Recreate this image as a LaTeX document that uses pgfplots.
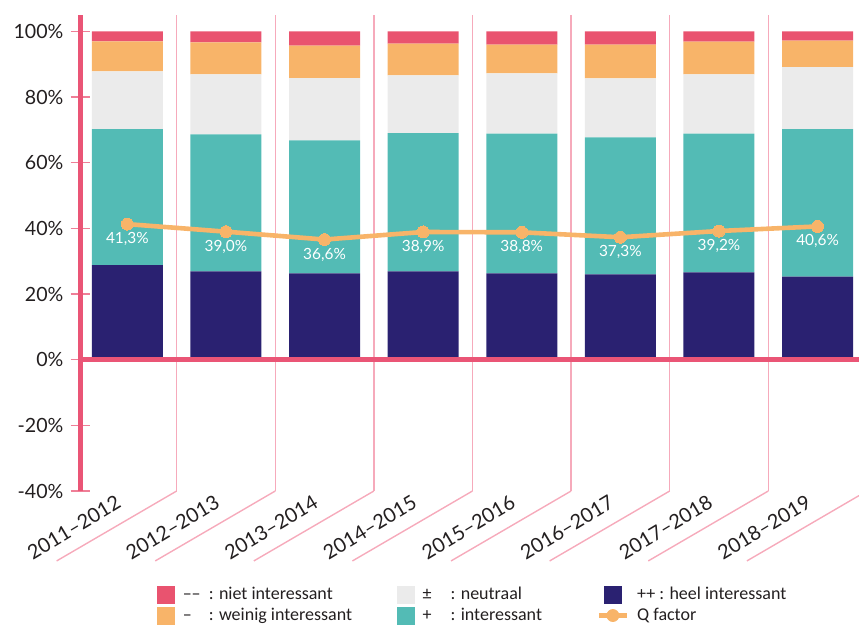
\documentclass[border=0pt]{standalone}
\usepackage{fontspec}
\setmainfont{Lato}
\newfontfamily\legfont{Carlito}
\usepackage{pgfplots}
\pgfplotsset{compat=1.18}
\definecolor{cred}{HTML}{E9536F}
\definecolor{corange}{HTML}{F8B469}
\definecolor{cgray}{HTML}{EBEBEB}
\definecolor{cteal}{HTML}{53BBB5}
\definecolor{cnavy}{HTML}{2A2171}
\definecolor{cpink}{HTML}{EA5576}
\definecolor{ctick}{HTML}{EF7F97}
\definecolor{cgrid}{HTML}{F6AABB}
\definecolor{ctext}{HTML}{231F20}
\begin{document}
\begin{tikzpicture}
\pgfplotsset{common/.style={scale only axis, width=389.5pt, height=238pt,
  xmin=-0.48, xmax=7.42, ymin=-40, ymax=105, clip=false}}
\begin{axis}[common, name=ax,
  ybar stacked, bar width=0.72,
  axis y line*=left, axis x line*=bottom,
  x axis line style={draw=none},
  y axis line style={cpink, line width=2.5pt},
  ytick={-40,-20,0,20,40,60,80,100},
  yticklabels={-40\%,-20\%,0\%,20\%,40\%,60\%,80\%,100\%},
  ytick style={ctick, line width=0.7pt},
  tick align=center, major tick length=9.5pt,
  yticklabel style={font=\fontsize{9.8}{11}\selectfont, text=ctext},
  xtick={0,1,2,3,4,5,6,7},
  xticklabels={2011–2012,2012–2013,2013–2014,2014–2015,2015–2016,2016–2017,2017–2018,2018–2019},
  xtick style={draw=none},
  xticklabel style={xshift=-5pt, yshift=8pt, rotate=31, anchor=north east, font=\fontsize{10}{11}\selectfont, text=ctext},
  extra x ticks={0.5,1.5,2.5,3.5,4.5,5.5,6.5},
  extra x tick labels={},
  extra x tick style={grid=major, major tick length=0pt, major grid style={cgrid, line width=0.7pt}},
  legend columns=3, legend cell align=left,
  legend style={at={(0.0988,-0.1954)}, anchor=north west, draw=none, fill=none,
    inner sep=0pt, outer sep=0pt, row sep=0pt, column sep=0pt,
    font=\legfont\fontsize{9}{10.5}\selectfont, text=ctext,
    /tikz/every odd column/.append style={column sep=4pt},
    nodes={inner sep=0pt, text height=7pt, text depth=2pt, inner ysep=0.75pt}},
]
\addplot[fill=cnavy, draw=none, forget plot] coordinates {(0,28.8) (1,26.9) (2,26.3) (3,26.9) (4,26.3) (5,26.0) (6,26.6) (7,25.3)};
\addplot[fill=cteal, draw=none, forget plot] coordinates {(0,41.4) (1,41.7) (2,40.5) (3,42.1) (4,42.6) (5,41.7) (6,42.3) (7,44.9)};
\addplot[fill=cgray, draw=none, forget plot] coordinates {(0,17.6) (1,18.3) (2,19.0) (3,17.6) (4,18.3) (5,18.0) (6,18.0) (7,18.9)};
\addplot[fill=corange, draw=none, forget plot] coordinates {(0,9.2) (1,9.75) (2,9.9) (3,9.7) (4,8.8) (5,10.3) (6,10.0) (7,8.1)};
\addplot[fill=cred, draw=none, forget plot] coordinates {(0,3.0) (1,3.35) (2,4.3) (3,3.7) (4,4.0) (5,4.0) (6,3.1) (7,2.8)};
\addlegendimage{legend image code/.code={\fill[cred] (0pt,-4.25pt) rectangle (8.5pt,4.25pt);}}
\addlegendimage{legend image code/.code={\fill[cgray] (0pt,-4.25pt) rectangle (8.5pt,4.25pt);}}
\addlegendimage{legend image code/.code={\fill[cnavy] (0pt,-4.25pt) rectangle (8.5pt,4.25pt);}}
\addlegendimage{legend image code/.code={\fill[corange] (0pt,-4.25pt) rectangle (8.5pt,4.25pt);}}
\addlegendimage{legend image code/.code={\fill[cteal] (0pt,-4.25pt) rectangle (8.5pt,4.25pt);}}
\addlegendimage{legend image code/.code={\draw[corange, line width=2.3pt] (-2.75pt,0) -- (11.25pt,0); \fill[corange] (4.25pt,0) circle (3pt);}}
\legend{{\makebox[107pt][l]{\makebox[13pt][l]{––}: niet interessant}},
  {\makebox[87pt][l]{\makebox[14pt][l]{±}: neutraal}},
  {++ : heel interessant},
  {\makebox[107pt][l]{\makebox[13pt][l]{–}: weinig interessant}},
  {\makebox[87pt][l]{\makebox[14pt][l]{+}: interessant}},
  {Q factor}}
\end{axis}
\begin{axis}[common, hide axis]
\addplot[cpink, line width=2.5pt] coordinates {(-0.48,0) (7.42,0)};
\addplot[corange, line width=2.3pt, mark=*, mark size=3pt,
  mark options={fill=corange, draw=corange, line width=0pt},
  point meta=y,
  nodes near coords={\pgfmathprintnumber[fixed,fixed zerofill,precision=1,use comma,assume math mode=true]{\pgfplotspointmeta}\%},
  every node near coord/.append style={anchor=center, yshift=-7.5pt, text=white, font=\fontsize{7.7}{9}\selectfont}]
  coordinates {(0,41.3) (1,39.0) (2,36.6) (3,38.9) (4,38.8) (5,37.3) (6,39.2) (7,40.6)};
\draw[cgrid, line width=0.7pt] (axis cs:0.5,-40) -- (axis cs:-0.717,-61.3)
  (axis cs:1.5,-40) -- (axis cs:0.283,-61.3)
  (axis cs:2.5,-40) -- (axis cs:1.283,-61.3)
  (axis cs:3.5,-40) -- (axis cs:2.283,-61.3)
  (axis cs:4.5,-40) -- (axis cs:3.283,-61.3)
  (axis cs:5.5,-40) -- (axis cs:4.283,-61.3)
  (axis cs:6.5,-40) -- (axis cs:5.283,-61.3)
  (axis cs:7.42,-41.4) -- (axis cs:6.283,-61.3);
\end{axis}
\pgfresetboundingbox
\path[use as bounding box] ([xshift=-40pt,yshift=-68pt]ax.south west) rectangle ([yshift=7.5pt]ax.north east);
\end{tikzpicture}
\end{document}
